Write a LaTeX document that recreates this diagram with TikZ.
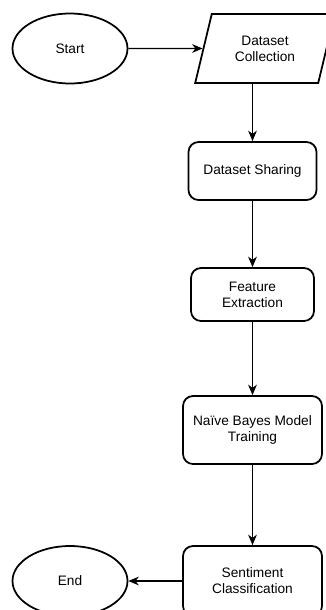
\documentclass[tikz,border=0pt]{standalone}
\usepackage{fontspec}
\setmainfont{Liberation Sans}
\usetikzlibrary{shapes.geometric, arrows.meta, positioning}

\begin{document}
\begin{tikzpicture}[>={Stealth[length=6pt, width=5pt]},
    every node/.style={font=\fontsize{7.8}{9.2}\selectfont},
    terminal/.style={draw, ellipse, line width=1pt, minimum width=2.3cm, minimum height=1.4cm, inner sep=0pt},
    io/.style={draw, trapezium, trapezium left angle=70, trapezium right angle=110, trapezium stretches=true, minimum width=2.8cm, minimum height=1.38cm, line width=1pt, align=center, inner sep=0pt},
    process/.style={draw, rounded corners=0.2cm, line width=1pt, align=center, inner sep=0pt},
    flow/.style={->, line width=0.6pt}]
    \useasboundingbox (0,0) rectangle (6.52,-12.2);

    \node[terminal] (start) at (1.4,-0.97) {Start};
    \node[io, right of=start, node distance=3.9cm] (collect) {Dataset\\Collection};

    \node[process, minimum width=2.56cm, minimum height=1.16cm, below of=collect, node distance=2.45cm, xshift=-0.25cm] (share) {Dataset Sharing};
    \node[process, minimum width=2.46cm, minimum height=1.06cm, below of=share, node distance=2.47cm] (feature) {Feature\\Extraction};
    \node[process, minimum width=2.78cm, minimum height=1.36cm, below of=feature, node distance=2.71cm] (train) {Naïve Bayes Model\\Training};
    \node[process, minimum width=2.78cm, minimum height=1.4cm, below of=train, node distance=3.02cm] (classify) {Sentiment\\Classification};

    \node[terminal, left of=classify, node distance=3.65cm] (finish) {End};

    \draw[flow] (start) -- (collect);
    \draw[flow] (collect.south -| share.north) -- (share.north);
    \draw[flow] (share) -- (feature);
    \draw[flow] (feature) -- (train);
    \draw[flow] (train) -- (classify);
    \draw[flow] (classify) -- (finish);
\end{tikzpicture}
\end{document}
